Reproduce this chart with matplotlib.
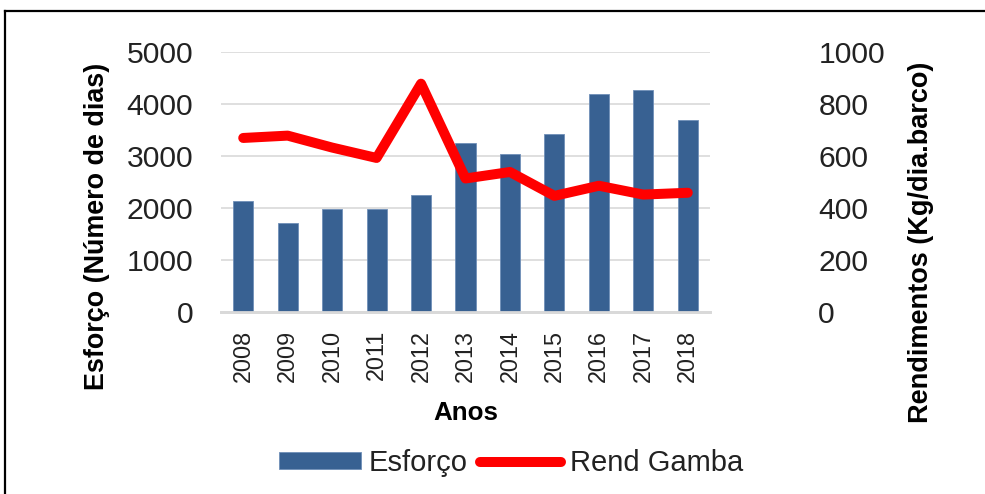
import matplotlib
matplotlib.use("Agg")
import matplotlib.pyplot as plt
from matplotlib.lines import Line2D
from matplotlib.patches import Patch

years = ["2008", "2009", "2010", "2011", "2012", "2013", "2014", "2015", "2016", "2017", "2018"]
esforco = [2135, 1700, 1970, 1970, 2245, 3250, 3045, 3415, 4200, 4265, 3685]
rend_gamba = [669, 678, 632, 592, 878, 513, 538, 446, 485, 451, 458]

plt.rcParams['font.family'] = ['Liberation Sans', 'DejaVu Sans']

W, H = 985, 494
fig = plt.figure(figsize=(W / 100, H / 100), dpi=100)
left, right, top, bottom = 221, 710, 52, 311.7
ax1 = fig.add_axes([left / W, 1 - bottom / H, (right - left) / W, (bottom - top) / H])
ax2 = ax1.twinx()

x = list(range(len(years)))
bar_color = '#386192'
ax1.bar(x, esforco, width=0.45, color=bar_color, edgecolor='#6f8fb8', linewidth=0.6, zorder=3)
ax1.set_ylim(0, 5000)
ax1.set_xlim(-0.5, len(years) - 0.5)
ax1.set_yticks([0, 1000, 2000, 3000, 4000, 5000])
ax1.set_xticks(x)
ax1.set_xticklabels(years, rotation=90, fontsize=16.8, color='#222222')
ax1.grid(axis='y', color='#d9d9d9', linewidth=1.2, zorder=0)
ax1.set_axisbelow(True)
ax1.tick_params(axis='y', length=0, pad=20, labelsize=21.7, labelcolor='#222222')
ax1.tick_params(axis='x', length=0, pad=13)

ax2.plot(x, rend_gamba, color='#ff0000', linewidth=7.2, solid_capstyle='round',
         solid_joinstyle='round', zorder=4)
ax2.set_ylim(0, 1000)
ax2.set_yticks([0, 200, 400, 600, 800, 1000])
ax2.tick_params(axis='y', length=0, pad=78, labelsize=21.7, labelcolor='#222222')

for ax in (ax1, ax2):
    for s in ('top', 'left', 'right'):
        ax.spines[s].set_visible(False)
    ax.spines['bottom'].set_color('#d9d9d9')
    ax.spines['bottom'].set_linewidth(2)

ax1.set_ylabel('Esforço (Número de dias)', fontsize=19.4, fontweight='bold')
ax1.yaxis.set_label_coords(97 / W, 1 - 226 / H, transform=fig.transFigure)
ax2.set_ylabel('Rendimentos (Kg/dia.barco)', fontsize=19.5, fontweight='bold')
ax2.yaxis.set_label_coords(921 / W, 1 - 242.5 / H, transform=fig.transFigure)
ax1.set_xlabel('Anos', fontsize=18.7, fontweight='bold')
ax1.xaxis.set_label_coords(466 / W, 1 - 413 / H, transform=fig.transFigure)
ax1.yaxis.label.set_va('center')
ax2.yaxis.label.set_va('center')
ax1.xaxis.label.set_va('center')

handles = [Patch(facecolor=bar_color, edgecolor='#6f8fb8', linewidth=0.6),
           Line2D([0], [0], color='#ff0000', linewidth=7.2, solid_capstyle='round')]
fig.legend(handles, ['Esforço', 'Rend Gamba'], loc='center', bbox_to_anchor=(511 / W, 1 - 463 / H),
           ncol=2, frameon=False, fontsize=21, handlelength=2.8, handleheight=0.5,
           handletextpad=0.28, columnspacing=0.4, labelcolor='#222222')

# outer frame (top and left edges visible)
fig.add_artist(Line2D([5 / W, 5 / W], [0, 1 - 11 / H], transform=fig.transFigure, color='black', linewidth=1.6))
fig.add_artist(Line2D([5 / W, 1], [1 - 11 / H, 1 - 11 / H], transform=fig.transFigure, color='black', linewidth=1.6))

fig.savefig('out.png', dpi=100)
